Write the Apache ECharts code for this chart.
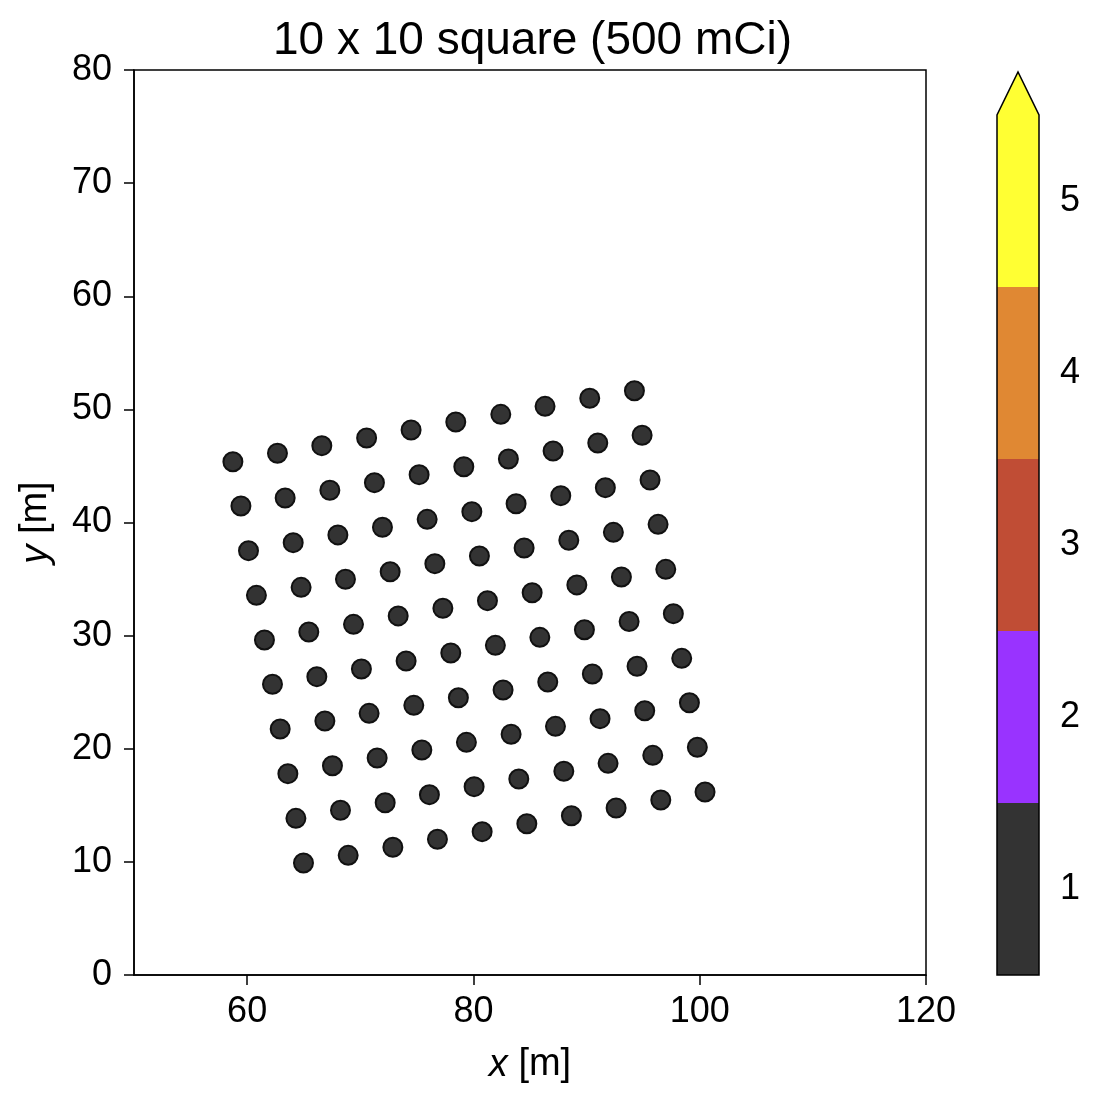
<!DOCTYPE html>
<html lang="en">
<head>
<meta charset="UTF-8">
<title>10 x 10 square (500 mCi)</title>
<style>
    html, body { margin: 0; padding: 0; background: #ffffff; }
    #main { width: 1100px; height: 1103px; }
</style>
</head>
<body>
<div id="main"></div>
<script src="https://cdn.jsdelivr.net/npm/echarts@6/dist/echarts.min.js"></script>
<script>
    // source positions [m], bottom row first
    var sourceX = [
        64.98, 68.93, 72.88, 76.82, 80.77, 84.72, 88.66, 92.61, 96.56, 100.47,
        64.31, 68.25, 72.20, 76.11, 80.06, 84.01, 87.99, 91.90, 95.85, 99.79,
        63.60, 67.54, 71.49, 75.44, 79.38, 83.33, 87.25, 91.19, 95.14, 99.09,
        62.92, 66.87, 70.78, 74.73, 78.67, 82.62, 86.57, 90.51, 94.46, 98.41,
        62.24, 66.16, 70.10, 74.05, 78.00, 81.94, 85.87, 89.81, 93.76, 97.67,
        61.53, 65.45, 69.40, 73.35, 77.30, 81.24, 85.19, 89.14, 93.08, 97.00,
        60.82, 64.77, 68.69, 72.64, 76.59, 80.53, 84.48, 88.43, 92.37, 96.32,
        60.12, 64.07, 68.02, 71.96, 75.91, 79.86, 83.77, 87.72, 91.66, 95.61,
        59.45, 63.36, 67.31, 71.25, 75.20, 79.15, 83.09, 87.04, 90.99, 94.91,
        58.74, 62.68, 66.60, 70.56, 74.49, 78.44, 82.42, 86.33, 90.28, 94.23
    ];
    var sourceY = [
        9.90, 10.58, 11.29, 12.00, 12.67, 13.37, 14.08, 14.76, 15.47, 16.18,
        13.85, 14.56, 15.23, 15.94, 16.65, 17.33, 18.01, 18.71, 19.42, 20.13,
        17.80, 18.50, 19.18, 19.89, 20.57, 21.28, 21.98, 22.66, 23.36, 24.07,
        21.75, 22.45, 23.13, 23.84, 24.51, 25.19, 25.90, 26.61, 27.29, 27.99,
        25.70, 26.37, 27.05, 27.76, 28.46, 29.14, 29.85, 30.52, 31.25, 31.94,
        29.61, 30.32, 31.00, 31.74, 32.42, 33.09, 33.79, 34.48, 35.18, 35.86,
        33.56, 34.27, 34.98, 35.65, 36.36, 37.04, 37.75, 38.43, 39.13, 39.84,
        37.51, 38.22, 38.90, 39.58, 40.28, 40.96, 41.66, 42.37, 43.08, 43.76,
        41.46, 42.17, 42.85, 43.52, 44.23, 44.93, 45.61, 46.32, 47.03, 47.71,
        45.37, 46.12, 46.79, 47.47, 48.18, 48.88, 49.56, 50.27, 50.98, 51.65
    ];
    // every source sits in level 1
    var sourceLevel = sourceX.map(function () { return 1; });

    var colorLevels = [1, 2, 3, 4, 5];
    var levelColors = ['#333333', '#9933ff', '#c04d35', '#e08833', '#ffff33'];

    var xTicks = [60, 80, 100, 120];
    var yTicks = [0, 10, 20, 30, 40, 50, 60, 70, 80];
    var cbTicks = [1, 2, 3, 4, 5];

    var FONT = "'Liberation Sans', Arial, sans-serif";
    var cbMin = 0.5, cbMax = 5.5;
    var extendFrac = 0.05; // length of the arrow tip, fraction of the bar

    var points = [];
    for (var i = 0; i < sourceX.length; i++) {
        points.push([sourceX[i], sourceY[i], sourceLevel[i]]);
    }

    var myChart = echarts.init(document.getElementById('main'), null, {renderer: 'canvas'});

    var axisText = {color: '#000', fontSize: 36, fontFamily: FONT};
    var nameStyle = {
        color: '#000', fontSize: 38, fontFamily: FONT,
        rich: {i: {fontStyle: 'italic', fontSize: 38, fontFamily: FONT, color: '#000'}}
    };

    var option = {
        animation: false,
        backgroundColor: '#ffffff',
        title: {
            text: '10 x 10 square (500 mCi)',
            left: 268,
            top: 13,
            textStyle: {color: '#000', fontSize: 46, fontWeight: 'normal', fontFamily: FONT}
        },
        grid: [
            {left: 134, top: 70, width: 792, height: 905, show: true, borderColor: '#000', borderWidth: 1.5, backgroundColor: '#fff'},
            {left: 997, top: 115, width: 42, height: 860, show: false}
        ],
        xAxis: [
            {
                type: 'value', gridIndex: 0, min: 50, max: 120, interval: 10,
                name: '{i|x} [m]', nameLocation: 'middle', nameGap: 71, nameTextStyle: nameStyle,
                axisLine: {show: true, onZero: false, lineStyle: {color: '#000', width: 1.5}},
                axisTick: {show: true, length: 10, customValues: xTicks, lineStyle: {color: '#000', width: 1.5}},
                axisLabel: Object.assign({customValues: xTicks, margin: 19}, axisText),
                splitLine: {show: false}
            },
            {type: 'value', gridIndex: 1, min: 0, max: 1, show: false}
        ],
        yAxis: [
            {
                type: 'value', gridIndex: 0, min: 0, max: 80, interval: 10,
                name: '{i|y} [m]', nameLocation: 'middle', nameGap: 79, nameRotate: 90, nameTextStyle: nameStyle,
                axisLine: {show: true, onZero: false, lineStyle: {color: '#000', width: 1.5}},
                axisTick: {show: true, length: 10, customValues: yTicks, lineStyle: {color: '#000', width: 1.5}},
                axisLabel: Object.assign({customValues: yTicks, margin: 22}, axisText),
                splitLine: {show: false}
            },
            {
                type: 'value', gridIndex: 1, min: cbMin, max: cbMax, position: 'right',
                axisLine: {show: false},
                axisTick: {show: true, length: 10, customValues: cbTicks, lineStyle: {color: '#000', width: 1.5}},
                axisLabel: Object.assign({customValues: cbTicks, margin: 21}, axisText),
                splitLine: {show: false}
            }
        ],
        series: [
            {
                name: 'sources',
                type: 'scatter',
                xAxisIndex: 0, yAxisIndex: 0,
                symbol: 'circle',
                symbolSize: 19,
                data: points,
                itemStyle: {
                    color: function (p) { return levelColors[p.value[2] - 1]; },
                    borderColor: '#111',
                    borderWidth: 2,
                    opacity: 1
                }
            },
            {
                // colour bands of the colorbar
                name: 'bands',
                type: 'custom',
                xAxisIndex: 1, yAxisIndex: 1,
                clip: false,
                data: colorLevels.map(function (l) { return [0, l]; }),
                encode: {x: 0, y: 1},
                renderItem: function (params, api) {
                    var lvl = api.value(1);
                    var p0 = api.coord([0, lvl - 0.5]);
                    var p1 = api.coord([1, lvl + 0.5]);
                    return {
                        type: 'rect',
                        shape: {x: p0[0], y: p1[1], width: p1[0] - p0[0], height: p0[1] - p1[1]},
                        style: {fill: levelColors[lvl - 1], stroke: null}
                    };
                }
            },
            {
                // extension arrow + outline
                name: 'outline',
                type: 'custom',
                xAxisIndex: 1, yAxisIndex: 1,
                clip: false,
                data: [[0, cbMax]],
                encode: {x: 0, y: 1},
                renderItem: function (params, api) {
                    var tip = cbMax + extendFrac * (cbMax - cbMin);
                    var bl = api.coord([0, cbMin]), br = api.coord([1, cbMin]);
                    var tl = api.coord([0, cbMax]), tr = api.coord([1, cbMax]);
                    var ap = api.coord([0.5, tip]);
                    return {
                        type: 'group',
                        children: [
                            {
                                type: 'polygon',
                                shape: {points: [tl, tr, ap]},
                                style: {fill: levelColors[levelColors.length - 1], stroke: null}
                            },
                            {
                                type: 'polygon',
                                shape: {points: [bl, br, tr, ap, tl]},
                                style: {fill: null, stroke: '#000', lineWidth: 1.5}
                            }
                        ]
                    };
                }
            }
        ]
    };

    myChart.setOption(option);
    window.addEventListener('resize', function () {
        myChart.resize();
    });
</script>
</body>
</html>
